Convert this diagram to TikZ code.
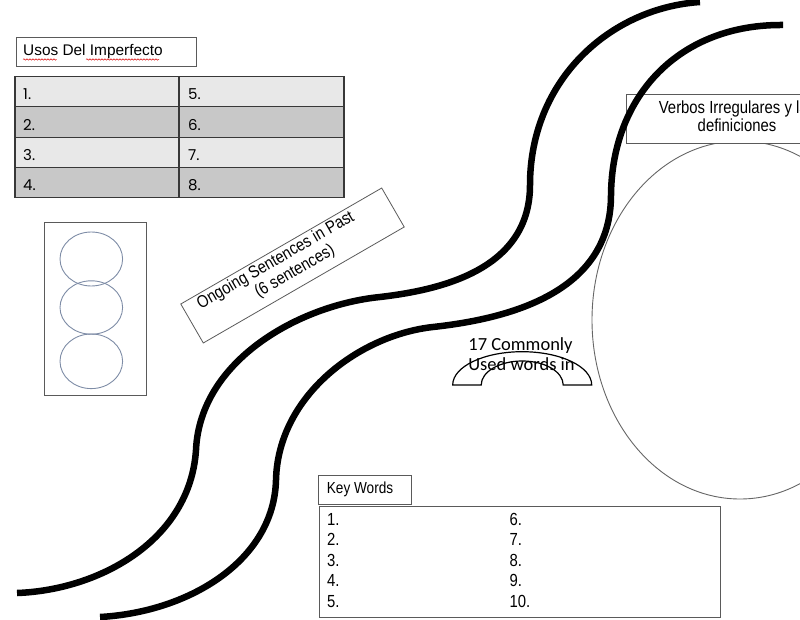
\documentclass[tikz,border=0pt]{standalone}
\usepackage{fontspec}
\setmainfont{Liberation Sans}
\newfontfamily\narrowfont[FakeStretch=0.85]{Liberation Sans}
\newfontfamily\roundfont{Poppins}
\newfontfamily\calfont{Carlito}
\usetikzlibrary{shapes.geometric,decorations.pathmorphing}
\definecolor{rowlight}{HTML}{E8E8E8}
\definecolor{rowdark}{HTML}{C8C8C8}
\definecolor{gridline}{HTML}{383838}
\definecolor{boxline}{HTML}{5A5A5A}
\definecolor{ringline}{HTML}{7E8CA6}
\tikzset{
  cell/.style={draw=gridline, line width=1.2pt, anchor=north west, inner sep=0pt, minimum height=30.3pt},
  frame/.style={draw=boxline, line width=1.2pt, fill=white, anchor=north west, inner sep=0pt},
  txt/.style={anchor=base west, inner sep=0pt},
  tabnum/.style={txt, font=\roundfont\fontsize{15}{17}\selectfont, text=black},
  keynum/.style={txt, font=\narrowfont\fontsize{17.5}{20}\selectfont},
  ring/.style={draw=ringline, line width=0.9pt, ellipse, inner sep=0pt, minimum width=62.6pt},
  road/.style={line width=6.5pt, line cap=butt, line join=round},
  tilted/.style={rotate=30, anchor=base, inner sep=0pt, font=\narrowfont\fontsize{17.3}{20}\selectfont},
  squiggle/.style={draw=red!85!black, line width=0.5pt, decorate, decoration={snake, amplitude=0.7pt, segment length=3pt}}
}
\begin{document}
\begin{tikzpicture}[x=1pt,y=-1pt]
\useasboundingbox (0,0) rectangle (800,620);
\clip (0,0) rectangle (800,620);

% ---- Usos del imperfecto ----
\node[frame, minimum width=180pt, minimum height=29pt] (usosbox) at (16,37) {};
\node[txt, font=\fontsize{15.4}{18}\selectfont] (usos) at (23,56) {Usos Del Imperfecto};
\draw[squiggle] (23,59.5) -- (56.5,59.5);
\draw[squiggle] (86,59.5) -- (159,59.5);

\node[cell, fill=rowlight, minimum width=164pt] (a1) at (14.3,76) {};
\node[cell, fill=rowlight, minimum width=165pt] (b1) at (178.3,76) {};
\node[cell, fill=rowdark, minimum width=164pt] (a2) at (14.3,106.3) {};
\node[cell, fill=rowdark, minimum width=165pt] (b2) at (178.3,106.3) {};
\node[cell, fill=rowlight, minimum width=164pt] (a3) at (14.3,136.6) {};
\node[cell, fill=rowlight, minimum width=165pt] (b3) at (178.3,136.6) {};
\node[cell, fill=rowdark, minimum width=164pt] (a4) at (14.3,166.9) {};
\node[cell, fill=rowdark, minimum width=165pt] (b4) at (178.3,166.9) {};
\node[tabnum] (t1) at (23,100) {1.};
\node[tabnum] (t2) at (23,130.5) {2.};
\node[tabnum] (t3) at (23,160.5) {3.};
\node[tabnum] (t4) at (23,190.5) {4.};
\node[tabnum] (t5) at (188,100) {5.};
\node[tabnum] (t6) at (188,130.5) {6.};
\node[tabnum] (t7) at (188,160.5) {7.};
\node[tabnum] (t8) at (188,190.5) {8.};

% ---- three circles ----
\node[draw=boxline, line width=1.1pt, anchor=north west, inner sep=0pt, minimum width=101.5pt, minimum height=173pt] (circbox) at (44,221.7) {};
\node[ring, minimum height=54pt] (r1) at (91.3,259) {};
\node[ring, minimum height=53.4pt] (r2) at (91.3,307.5) {};
\node[ring, minimum height=54.6pt] (r3) at (91.3,361.3) {};

% ---- ongoing sentences ----
\node[draw=boxline, line width=0.8pt, fill=white, rotate=30, minimum width=232pt, minimum height=45pt, inner sep=0pt] (ongoing) at (292.5,265.5) {};
\begin{scope}[shift={(ongoing.center)}, rotate=30]
  \node[tilted] (ong1) at (-12,-8) {Ongoing Sentences in Past};
  \node[tilted] (ong2) at (-1,11) {(6 sentences)};
\end{scope}

% ---- arch ----
\draw[line width=1.2pt] (452.7,385) arc[start angle=180, end angle=0, x radius=69.5pt, y radius=33.3pt]
  -- (563.2,385) arc[start angle=0, end angle=180, x radius=41pt, y radius=24pt] -- cycle;
\node[anchor=base, inner sep=0pt, font=\calfont\fontsize{18.5}{21}\selectfont] (arch1) at (520.5,350) {17 Commonly};
\node[anchor=base, inner sep=0pt, font=\calfont\fontsize{18.5}{21}\selectfont] (arch2) at (521.5,370.5) {Used words in};

% ---- big ellipse and verbos ----
\node[draw=black!60, line width=0.9pt, ellipse, inner sep=0pt, minimum width=296pt, minimum height=358pt] (bigell) at (740,320) {};
\node[frame, minimum width=222pt, minimum height=48.4pt] (verbosbox) at (625.7,94.3) {};
\node[anchor=base, inner sep=0pt, font=\narrowfont\fontsize{17.5}{20}\selectfont] (verbos1) at (737,113.3) {Verbos Irregulares y las};
\node[anchor=base, inner sep=0pt, font=\narrowfont\fontsize{17.5}{20}\selectfont] (verbos2) at (737,131.7) {definiciones};

% ---- key words ----
\node[frame, minimum width=93pt, minimum height=29pt] (keybox) at (318,475) {};
\node[txt, font=\narrowfont\fontsize{16}{18}\selectfont] (keytitle) at (326.7,493.3) {Key Words};
\node[frame, minimum width=401pt, minimum height=111pt] (keylist) at (319,506) {};
\node[keynum] (k1) at (327,525) {1.};
\node[keynum] (k2) at (327,545.5) {2.};
\node[keynum] (k3) at (327,566) {3.};
\node[keynum] (k4) at (327,586.5) {4.};
\node[keynum] (k5) at (327,607) {5.};
\node[keynum] (k6) at (509.5,525) {6.};
\node[keynum] (k7) at (509.5,545.5) {7.};
\node[keynum] (k8) at (509.5,566) {8.};
\node[keynum] (k9) at (509.5,586.5) {9.};
\node[keynum] (k10) at (509.5,607) {10.};

% ---- the two thick curves ----
\draw[road] (700,2) .. controls (610,8) and (530,80) .. (530,185)
  .. controls (530,270) and (440,290) .. (380,297)
  .. controls (300,305) and (200,360) .. (196,450)
  .. controls (190,540) and (100,590) .. (17,593);
\draw[road] (783,25) .. controls (680,24) and (612,95) .. (611,195)
  .. controls (611,290) and (515,318) .. (433,327)
  .. controls (360,335) and (278,395) .. (276,480)
  .. controls (274,560) and (190,612) .. (100,617);
\end{tikzpicture}
\end{document}
